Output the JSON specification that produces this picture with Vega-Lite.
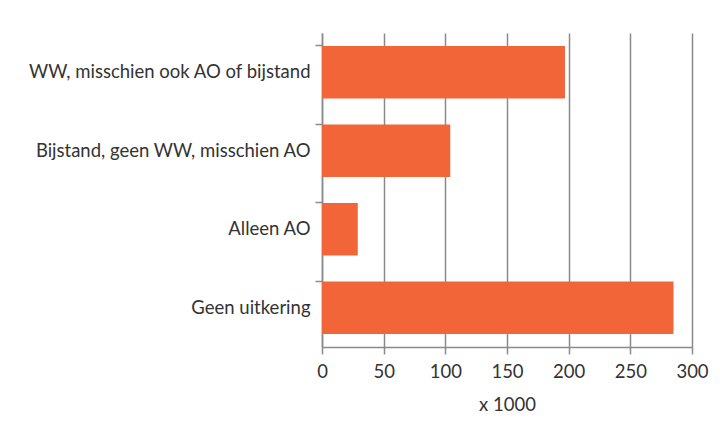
{
  "$schema": "https://vega.github.io/schema/vega-lite/v6.json",
  "width": 370,
  "height": 314,
  "autosize": {"type": "none"},
  "padding": {"left": 322, "top": 33, "right": 28, "bottom": 83},
  "background": "white",
  "data": {"values": [
    {"categorie": "WW, misschien ook AO of bijstand", "aantal": 197},
    {"categorie": "Bijstand, geen WW, misschien AO", "aantal": 104},
    {"categorie": "Alleen AO ", "aantal": 29},
    {"categorie": "Geen uitkering", "aantal": 285}
  ]},
  "mark": {"type": "bar", "color": "#F26539"},
  "encoding": {
    "y": {
      "field": "categorie", "type": "nominal", "sort": null,
      "scale": {"paddingInner": 0.33, "paddingOuter": 0.165},
      "axis": {
        "title": null, "grid": false, "bandPosition": 0,
        "tickSize": 7, "tickColor": "#8a8a8a", "tickWidth": 1.5,
        "domainColor": "#8a8a8a", "domainWidth": 1.5,
        "labelFont": "Lato", "labelFontSize": 18.5, "labelColor": "#333333",
        "labelPadding": 5, "labelLimit": 400
      }
    },
    "x": {
      "field": "aantal", "type": "quantitative",
      "scale": {"domain": [0, 300], "nice": false},
      "axis": {
        "title": "x 1000", "values": [0, 50, 100, 150, 200, 250, 300],
        "grid": true, "gridColor": "#8a8a8a", "gridWidth": 1.5,
        "tickSize": 7, "tickColor": "#8a8a8a", "tickWidth": 1.5,
        "domainColor": "#8a8a8a", "domainWidth": 1.5,
        "labelFont": "Lato", "labelFontSize": 18.5, "labelColor": "#333333",
        "labelPadding": 8, "labelFlush": false, "labelOverlap": false,
        "titleFont": "Lato", "titleFontSize": 18.5, "titleFontWeight": "normal",
        "titleColor": "#333333", "titlePadding": 15
      }
    }
  },
  "config": {"view": {"stroke": null}}
}
